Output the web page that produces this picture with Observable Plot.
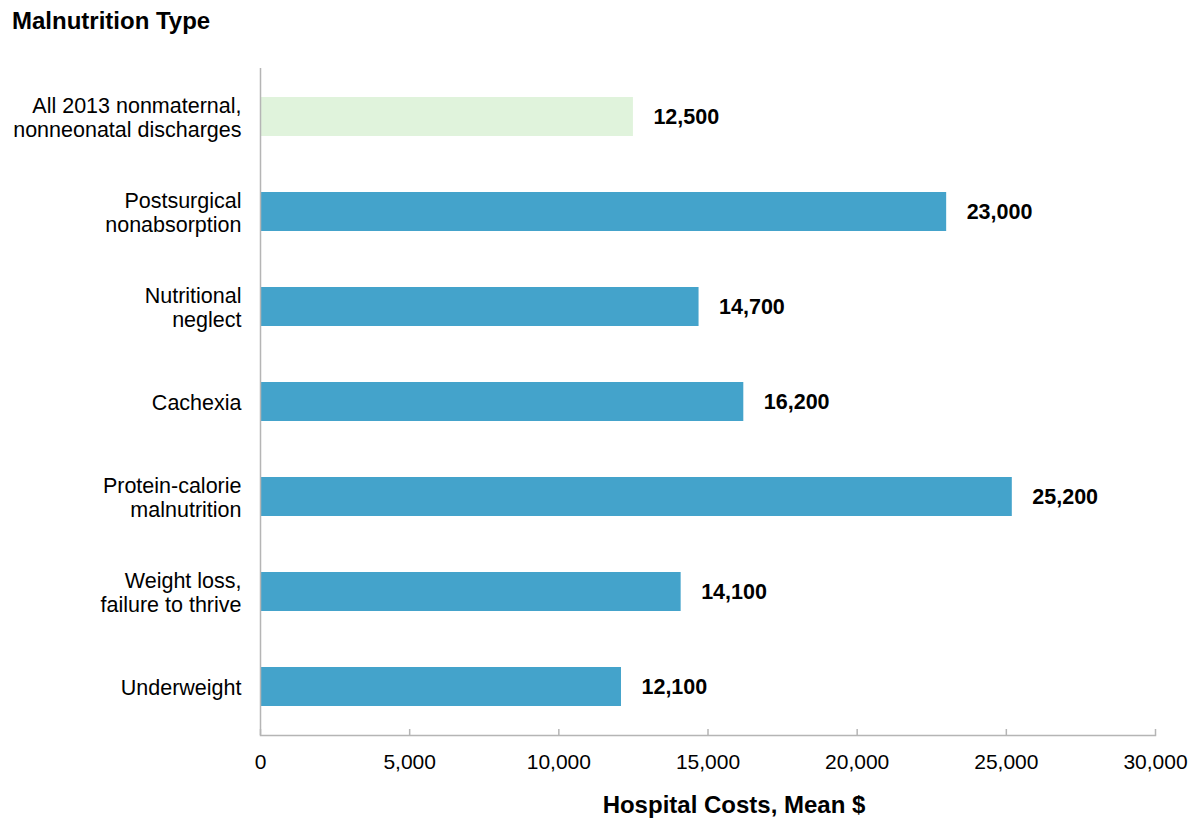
<!DOCTYPE html>
<html>
<head>
<meta charset="utf-8">
<script src="https://cdn.jsdelivr.net/npm/d3@7"></script>
<script src="https://cdn.jsdelivr.net/npm/@observablehq/plot@0.6"></script>
<style>
  html, body { margin: 0; padding: 0; background: #fff; }
  body { width: 1194px; height: 821px; overflow: hidden; font-family: "Liberation Sans", Arial, sans-serif; color: #000; }
  #title { height: 45px; box-sizing: border-box; padding: 9px 0 0 12px; font-size: 24px; line-height: 24px; font-weight: bold; }
  #caption { height: 28px; box-sizing: border-box; padding-left: 274px; text-align: center; font-size: 24px; line-height: 24px; font-weight: bold; }
  svg { display: block; }
</style>
</head>
<body>
<div id="title">Malnutrition Type</div>
<div id="chart"></div>
<div id="caption">Hospital Costs, Mean $</div>
<script>
const categories = [
  "All 2013 nonmaternal,\nnonneonatal discharges",
  "Postsurgical\nnonabsorption",
  "Nutritional\nneglect",
  "Cachexia",
  "Protein-calorie\nmalnutrition",
  "Weight loss,\nfailure to thrive",
  "Underweight"
];
const meanCosts = [12500, 23000, 14700, 16200, 25200, 14100, 12100];
const xTicks = [0, 5000, 10000, 15000, 20000, 25000, 30000];

const data = categories.map((c, i) => ({category: c, cost: meanCosts[i]}));
const fmt = d3.format(",");
const axisGray = "#b5b5b5";
const barBlue = "#44a3cb";
const barLight = "#e0f3dc";

const chart = Plot.plot({
  width: 1194,
  height: 748,
  marginTop: 23,
  marginBottom: 58,
  marginLeft: 260,
  marginRight: 39,
  style: {fontFamily: '"Liberation Sans", Arial, sans-serif', color: "#000", background: "#fff"},
  x: {domain: [0, 30000], ticks: xTicks, tickFormat: fmt},
  y: {domain: categories, paddingInner: 0.59, paddingOuter: 0.295},
  marks: [
    Plot.barX(data, {
      y: "category",
      x: "cost",
      fill: d => d.category === categories[0] ? barLight : barBlue
    }),
    Plot.text(data, {
      y: "category",
      x: "cost",
      text: d => fmt(d.cost),
      dx: 20,
      textAnchor: "start",
      fontWeight: "bold",
      fontSize: 21.5,
      fill: "#000"
    }),
    Plot.ruleX([0], {stroke: axisGray, strokeWidth: 1.5}),
    Plot.frame({anchor: "bottom", stroke: axisGray, strokeWidth: 1.5}),
    Plot.ruleX(xTicks, {x: d => d, insetTop: 661, stroke: axisGray, strokeWidth: 1.5}),
    Plot.axisX({ticks: xTicks, tickFormat: fmt, tickSize: 0, tickPadding: 19, fontSize: 21, label: null, fill: "#000"}),
    Plot.axisY({tickSize: 0, tickPadding: 19, fontSize: 21.5, lineHeight: 1.12, label: null, fill: "#000"})
  ]
});
document.getElementById("chart").appendChild(chart);
</script>
</body>
</html>
